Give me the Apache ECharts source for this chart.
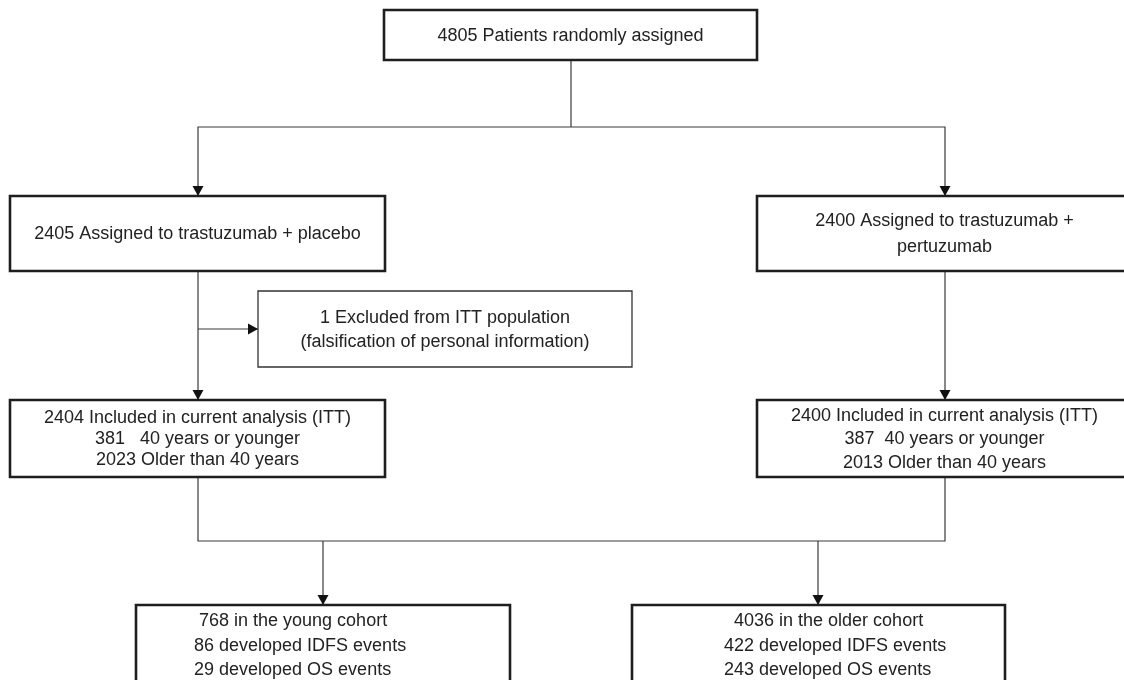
<!DOCTYPE html>
<html>
<head>
<meta charset="utf-8">
<title>Flow diagram</title>
<script src="https://cdn.jsdelivr.net/npm/echarts@6/dist/echarts.min.js"></script>
<style>
  html, body { margin: 0; padding: 0; background: #fff; }
  #main { width: 1124px; height: 680px; }
</style>
</head>
<body>
<div id="main"></div>
<script>
// patient counts shown in the boxes
const randomized = [4805];
const assigned = [2405, 2400];
const excluded = [1];
const itt = [2404, 2400];
const ittYoung = [381, 387];
const ittOlder = [2023, 2013];
const cohortSize = [768, 4036];
const idfsEvents = [86, 422];
const osEvents = [29, 243];

// box texts built from the counts
const nodeText = [
  randomized[0] + ' Patients randomly assigned',
  assigned[0] + ' Assigned to trastuzumab + placebo',
  assigned[1] + ' Assigned to trastuzumab +\npertuzumab',
  excluded[0] + ' Excluded from ITT population\n(falsification of personal information)',
  itt[0] + ' Included in current analysis (ITT)\n' + ittYoung[0] + '   40 years or younger\n' + ittOlder[0] + ' Older than 40 years',
  itt[1] + ' Included in current analysis (ITT)\n' + ittYoung[1] + '  40 years or younger\n' + ittOlder[1] + ' Older than 40 years',
  ' ' + cohortSize[0] + ' in the young cohort\n' + idfsEvents[0] + ' developed IDFS events\n' + osEvents[0] + ' developed OS events',
  '  ' + cohortSize[1] + ' in the older cohort\n' + idfsEvents[1] + ' developed IDFS events\n' + osEvents[1] + ' developed OS events'
];

// layout of the boxes, in axis units (axes span the whole canvas)
const nodeLayout = [
  {rect: [384, 10, 757, 60], thick: true, lh: 22},
  {rect: [10, 196, 385, 271], thick: true, lh: 22},
  {rect: [757, 196, 1132, 271], thick: true, lh: 26},
  {rect: [258, 291, 632, 367], thick: false, lh: 24},
  {rect: [10, 400, 385, 477], thick: true, lh: 21},
  {rect: [757, 400, 1132, 477], thick: true, lh: 23.5},
  {rect: [136, 605, 510, 720], thick: true, lh: 24.5, left: 194, top: 609},
  {rect: [632, 605, 1005, 720], thick: true, lh: 24.5, left: 724, top: 609}
];

// connector paths, last point gets an arrow head when arrow is true
const links = [
  {path: [[571, 60], [571, 127]], arrow: false},
  {path: [[571, 127], [198, 127], [198, 196]], arrow: true},
  {path: [[571, 127], [945, 127], [945, 196]], arrow: true},
  {path: [[198, 271], [198, 400]], arrow: true},
  {path: [[198, 329], [258, 329]], arrow: true},
  {path: [[945, 271], [945, 400]], arrow: true},
  {path: [[198, 477], [198, 541], [945, 541], [945, 477]], arrow: false},
  {path: [[323, 541], [323, 605]], arrow: true},
  {path: [[818, 541], [818, 605]], arrow: true}
];

const FONT = '"Liberation Sans", Arial, Helvetica, sans-serif';

function renderLink(params, api) {
  const lk = links[params.dataIndex];
  const pts = lk.path.map(p => api.coord(p));
  const children = [{
    type: 'polyline',
    shape: {points: pts},
    style: {stroke: '#3a3a3a', lineWidth: 1.2, fill: null}
  }];
  if (lk.arrow) {
    const a = pts[pts.length - 2], b = pts[pts.length - 1];
    const dx = b[0] - a[0], dy = b[1] - a[1];
    const len = Math.sqrt(dx * dx + dy * dy);
    const ux = dx / len, uy = dy / len;
    const hl = 10, hw = 5.5;
    const bx = b[0] - ux * hl, by = b[1] - uy * hl;
    children.push({
      type: 'polygon',
      shape: {points: [b, [bx - uy * hw, by + ux * hw], [bx + uy * hw, by - ux * hw]]},
      style: {fill: '#111'}
    });
  }
  return {type: 'group', children: children};
}

function renderNode(params, api) {
  const i = params.dataIndex;
  const L = nodeLayout[i];
  const p0 = api.coord([L.rect[0], L.rect[1]]);
  const p1 = api.coord([L.rect[2], L.rect[3]]);
  const textStyle = {
    text: nodeText[i],
    fontFamily: FONT,
    fontSize: 18,
    lineHeight: L.lh,
    fill: '#222'
  };
  if (L.left !== undefined) {
    const t = api.coord([L.left, L.top]);
    Object.assign(textStyle, {x: t[0], y: t[1], align: 'left', verticalAlign: 'top'});
  } else {
    Object.assign(textStyle, {
      x: (p0[0] + p1[0]) / 2, y: (p0[1] + p1[1]) / 2 + 1,
      align: 'center', verticalAlign: 'middle'
    });
  }
  return {
    type: 'group',
    children: [
      {
        type: 'rect',
        shape: {x: p0[0], y: p0[1], width: p1[0] - p0[0], height: p1[1] - p0[1]},
        style: {fill: '#fff', stroke: L.thick ? '#1e1e1e' : '#333', lineWidth: L.thick ? 2.6 : 1.3}
      },
      {type: 'text', style: textStyle}
    ]
  };
}

const chart = echarts.init(document.getElementById('main'));
chart.setOption({
  animation: false,
  backgroundColor: '#fff',
  grid: {left: 0, right: 0, top: 0, bottom: 0},
  xAxis: {type: 'value', min: 0, max: 1124, show: false},
  yAxis: {type: 'value', min: 0, max: 680, inverse: true, show: false},
  series: [
    {
      type: 'custom',
      renderItem: renderLink,
      data: links.map((l, i) => [i]),
      z: 1,
      silent: true
    },
    {
      type: 'custom',
      renderItem: renderNode,
      data: nodeText.map((t, i) => [i]),
      z: 2,
      silent: true
    }
  ]
});
</script>
</body>
</html>
